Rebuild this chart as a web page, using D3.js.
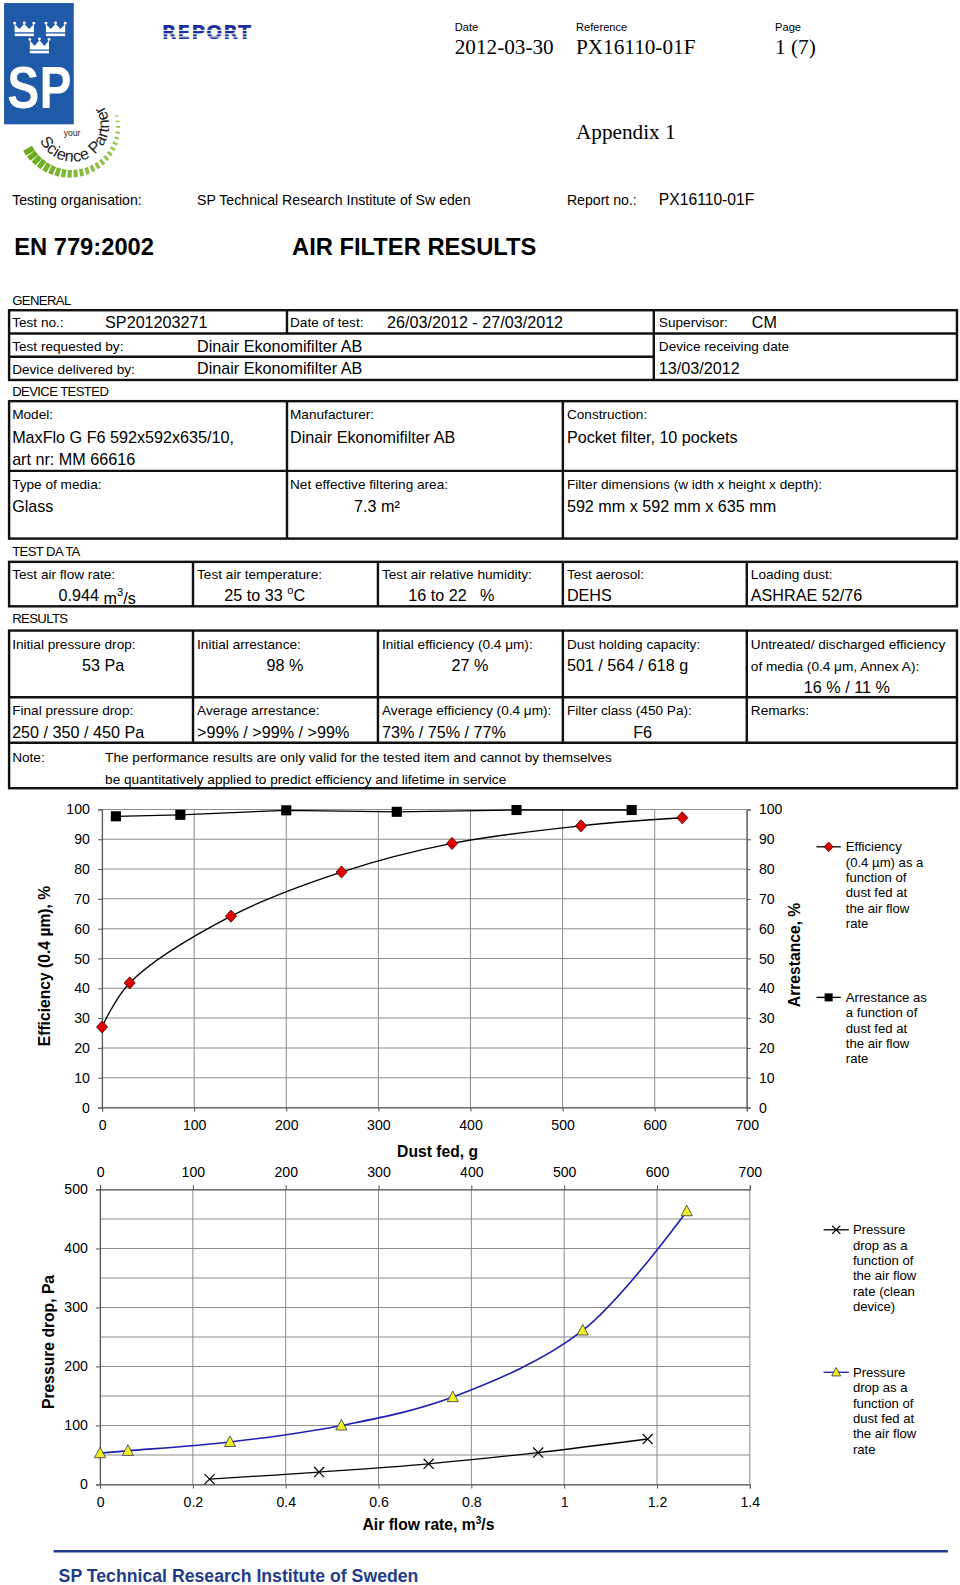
<!DOCTYPE html>
<html>
<head>
<meta charset="utf-8">
<script src="https://cdn.jsdelivr.net/npm/d3@7"></script>
<style>
  body { margin: 0; background: #fff; }
  svg { display: block; font-family: "Liberation Sans", Arial, sans-serif; }
</style>
</head>
<body>
<svg id="page" width="960" height="1585" viewBox="0 0 950 1568.5"></svg>
<script>
// efficiency / arrestance vs dust fed (upper chart)
const dustEff = [0, 30, 140, 260, 380, 520, 630];
const efficiency = [27, 41.8, 64.2, 79, 88.6, 94.5, 97.2];
const dustArr = [15, 85, 200, 320, 450, 575];
const arrestance = [97.7, 98.2, 99.7, 99.2, 99.8, 99.8];

// pressure drop (lower chart)
const dustDp = [0, 30, 140, 260, 380, 520, 632];
const dpDust = [53, 57, 72, 100, 148, 261, 463];
const flowClean = [0.236, 0.472, 0.708, 0.944, 1.18];
const dpClean = [9, 21, 35, 54, 77];

const dustTicks = [0, 100, 200, 300, 400, 500, 600, 700];
const pctTicks = [0, 10, 20, 30, 40, 50, 60, 70, 80, 90, 100];
const flowTicks = [0, 0.2, 0.4, 0.6, 0.8, 1, 1.2, 1.4];
const paTicks = [0, 100, 200, 300, 400, 500];
const paGrid = [0, 50, 100, 150, 200, 250, 300, 350, 400, 450, 500];

const svg = d3.select("#page");
const SERIF = "Liberation Serif, Times New Roman, serif";
const BLUE = "#1f3c8c";

function txt(x, y, s, o = {}) {
  const t = svg.append("text")
    .attr("x", x).attr("y", y)
    .attr("font-size", o.size || 13.5)
    .attr("text-anchor", o.anchor || "start")
    .attr("fill", o.fill || "#000");
  if (o.bold) t.attr("font-weight", "bold");
  if (o.family) t.attr("font-family", o.family);
  if (o.ls) t.attr("letter-spacing", o.ls);
  t.text(s);
  return t;
}
function line(x1, y1, x2, y2, w = 2.4, c = "#111") {
  svg.append("line").attr("x1", x1).attr("y1", y1).attr("x2", x2).attr("y2", y2)
    .attr("stroke", c).attr("stroke-width", w);
}
function box(x1, y1, x2, y2) {
  svg.append("rect").attr("x", x1).attr("y", y1)
    .attr("width", x2 - x1).attr("height", y2 - y1)
    .attr("fill", "none").attr("stroke", "#111").attr("stroke-width", 2.4);
}

// ---------- logo ----------
svg.append("rect").attr("x", 4).attr("y", 3).attr("width", 69).attr("height", 120).attr("fill", "#1e5aa8");
function crown(cx, base, w, h) {
  const p = d3.path();
  p.moveTo(cx - w / 2, base);
  p.lineTo(cx - w / 2, base - h);
  p.lineTo(cx - w / 4, base - h * 0.4);
  p.lineTo(cx, base - h * 1.05);
  p.lineTo(cx + w / 4, base - h * 0.4);
  p.lineTo(cx + w / 2, base - h);
  p.lineTo(cx + w / 2, base);
  p.closePath();
  svg.append("path").attr("d", p.toString()).attr("fill", "#fff");
  svg.append("rect").attr("x", cx - w / 2).attr("y", base + 1.2).attr("width", w).attr("height", 2.6).attr("fill", "#fff");
  [-w / 2, 0, w / 2].forEach(dx => svg.append("circle").attr("cx", cx + dx).attr("cy", base - h * (dx ? 1 : 1.05) - 1).attr("r", 1.4).attr("fill", "#fff"));
}
crown(24, 32, 19, 8);
crown(55, 32, 19, 8);
crown(39, 49, 19, 9);
svg.append("text").attr("transform", "translate(39,107) scale(0.82,1)")
  .attr("text-anchor", "middle").attr("font-size", 58).attr("font-weight", "bold")
  .attr("fill", "#fff").text("SP");

// green gauge dashes
const gc = [72, 124];
for (let i = 0; i < 24; i++) {
  const t = i / 23;
  const a = (150 - 162 * t) * Math.PI / 180;
  const ro = 55 - 9 * t, len = 10 - 6.5 * t;
  svg.append("line")
    .attr("x1", gc[0] + Math.cos(a) * (ro - len)).attr("y1", gc[1] + Math.sin(a) * (ro - len))
    .attr("x2", gc[0] + Math.cos(a) * ro).attr("y2", gc[1] + Math.sin(a) * ro)
    .attr("stroke", d3.interpolateRgb("#6aaa1e", "#a9d063")(t))
    .attr("stroke-width", 5.5 - 4 * t);
}
const arcR = 36;
const a0 = 155 * Math.PI / 180, a1 = -55 * Math.PI / 180;
svg.append("defs").append("path").attr("id", "logoArc")
  .attr("d", `M${gc[0] + arcR * Math.cos(a0)},${gc[1] + arcR * Math.sin(a0)} A${arcR},${arcR} 0 1 0 ${gc[0] + arcR * Math.cos(a1)},${gc[1] + arcR * Math.sin(a1)}`);
svg.append("text").attr("font-size", 16).attr("fill", "#222").attr("letter-spacing", 0.3)
  .append("textPath").attr("href", "#logoArc").text("Science Partner");
txt(63, 135, "your", { size: 8.5, fill: "#222" });

// REPORT wordmark
txt(160, 39, "REPORT", { size: 19, bold: true, fill: "#1a2f9c", ls: 0.8, family: "DejaVu Sans, sans-serif" });
[29.5, 33, 36].forEach(y => svg.append("rect").attr("x", 158).attr("y", y).attr("width", 90).attr("height", 1).attr("fill", "#fff"));

// ---------- header ----------
txt(450, 31, "Date", { size: 11 });
txt(570, 31, "Reference", { size: 11 });
txt(767, 31, "Page", { size: 11 });
txt(450, 53, "2012-03-30", { size: 21, family: SERIF });
txt(570, 53, "PX16110-01F", { size: 21, family: SERIF });
txt(767, 53, "1 (7)", { size: 21, family: SERIF });
txt(570, 138, "Appendix 1", { size: 21, family: SERIF });

txt(12, 203, "Testing organisation:", { size: 14 });
txt(195, 203, "SP Technical Research Institute of Sw eden", { size: 14 });
txt(561, 203, "Report no.:", { size: 14 });
txt(652, 203, "PX16110-01F", { size: 15.5 });

txt(14, 252, "EN 779:2002", { size: 23.5, bold: true });
txt(289, 252, "AIR FILTER RESULTS", { size: 23.5, bold: true });

// ---------- GENERAL ----------
const L = 13.5, V = 16;
txt(12, 302, "GENERAL", { size: 13, ls: -0.6 });
box(9, 307, 947, 376);
line(9, 330, 947, 330);
line(9, 353, 647, 353);
line(284, 307, 284, 330);
line(647, 307, 647, 376);
txt(12, 324, "Test no.:", { size: L });
txt(104, 325, "SP201203271", { size: V });
txt(287, 324, "Date of test:", { size: L });
txt(383, 325, "26/03/2012 - 27/03/2012", { size: V });
txt(652, 324, "Supervisor:", { size: L });
txt(744, 325, "CM", { size: V });
txt(12, 347, "Test requested by:", { size: L });
txt(195, 348, "Dinair Ekonomifilter AB", { size: V });
txt(652, 347, "Device receiving date", { size: L });
txt(12, 370, "Device delivered by:", { size: L });
txt(195, 370, "Dinair Ekonomifilter AB", { size: V });
txt(652, 370, "13/03/2012", { size: V });

// ---------- DEVICE TESTED ----------
txt(12, 392, "DEVICE TESTED", { size: 13, ls: -0.6 });
box(9, 397, 947, 533);
line(9, 466, 947, 466);
line(284, 397, 284, 533);
line(557, 397, 557, 533);
txt(12, 415, "Model:", { size: L });
txt(12, 438, "MaxFlo G F6 592x592x635/10,", { size: V });
txt(12, 460, "art nr: MM 66616", { size: V });
txt(287, 415, "Manufacturer:", { size: L });
txt(287, 438, "Dinair Ekonomifilter AB", { size: V });
txt(561, 415, "Construction:", { size: L });
txt(561, 438, "Pocket filter, 10 pockets", { size: V });
txt(12, 484, "Type of media:", { size: L });
txt(12, 507, "Glass", { size: V });
txt(287, 484, "Net effective filtering area:", { size: L });
txt(373, 507, "7.3 m²", { size: V, anchor: "middle" });
txt(561, 484, "Filter dimensions (w idth x height x depth):", { size: L });
txt(561, 507, "592 mm x 592 mm x 635 mm", { size: V });

// ---------- TEST DATA ----------
txt(12, 550, "TEST DA TA", { size: 13, ls: -0.6 });
box(9, 556, 947, 600);
[191, 374, 557, 739].forEach(x => line(x, 556, x, 600));
txt(12, 573, "Test air flow rate:", { size: L });
const fr = txt(58, 595, "0.944 ", { size: V });
fr.append("tspan").attr("dy", 3).text("m");
fr.append("tspan").attr("dy", -8).attr("font-size", 11).text("3");
fr.append("tspan").attr("dy", 8).text("/s");
txt(195, 573, "Test air temperature:", { size: L });
const tp = txt(222, 595, "25 to 33 ", { size: V });
tp.append("tspan").attr("dy", -7).attr("font-size", 11).text("o");
tp.append("tspan").attr("dy", 7).text("C");
txt(378, 573, "Test air relative humidity:", { size: L });
txt(404, 595, "16 to 22", { size: V });
txt(475, 595, "%", { size: V });
txt(561, 573, "Test aerosol:", { size: L });
txt(561, 595, "DEHS", { size: V });
txt(743, 573, "Loading dust:", { size: L });
txt(743, 595, "ASHRAE 52/76", { size: V });

// ---------- RESULTS ----------
txt(12, 617, "RESULTS", { size: 13, ls: -0.6 });
box(9, 624, 947, 780);
line(9, 690, 947, 690);
line(9, 735, 947, 735);
[191, 374, 557, 739].forEach(x => line(x, 624, x, 735));
txt(12, 642, "Initial pressure drop:", { size: L });
txt(102, 664, "53 Pa", { size: V, anchor: "middle" });
txt(195, 642, "Initial arrestance:", { size: L });
txt(282, 664, "98 %", { size: V, anchor: "middle" });
txt(378, 642, "Initial efficiency (0.4 μm):", { size: L });
txt(465, 664, "27 %", { size: V, anchor: "middle" });
txt(561, 642, "Dust holding capacity:", { size: L });
txt(561, 664, "501 / 564 / 618 g", { size: V });
txt(743, 642, "Untreated/ discharged efficiency", { size: L });
txt(743, 664, "of media (0.4 μm, Annex A):", { size: L });
txt(838, 686, "16 % / 11 %", { size: V, anchor: "middle" });
txt(12, 708, "Final pressure drop:", { size: L });
txt(12, 730, "250 / 350 / 450 Pa", { size: V });
txt(195, 708, "Average arrestance:", { size: L });
txt(195, 730, ">99% / >99% / >99%", { size: V });
txt(378, 708, "Average efficiency (0.4 μm):", { size: L });
txt(378, 730, "73% / 75% / 77%", { size: V });
txt(561, 708, "Filter class (450 Pa):", { size: L });
txt(636, 730, "F6", { size: V, anchor: "middle" });
txt(743, 708, "Remarks:", { size: L });
txt(12, 754, "Note:", { size: L });
txt(104, 754, "The performance results are only valid for the tested item and cannot by themselves", { size: L });
txt(104, 776, "be quantitatively applied to predict efficiency and lifetime in service", { size: L });

// ---------- markers ----------
function marker(g, kind, x, y, s = 1) {
  if (kind === "diamond") {
    g.append("path").attr("d", `M${x},${y - 6 * s}L${x + 5.5 * s},${y}L${x},${y + 6 * s}L${x - 5.5 * s},${y}Z`)
      .attr("fill", "#e00000").attr("stroke", "#400").attr("stroke-width", 0.8);
  } else if (kind === "square") {
    g.append("rect").attr("x", x - 5 * s).attr("y", y - 5 * s).attr("width", 10 * s).attr("height", 10 * s).attr("fill", "#000");
  } else if (kind === "triangle") {
    g.append("path").attr("d", `M${x},${y - 6 * s}L${x + 5.5 * s},${y + 4.5 * s}L${x - 5.5 * s},${y + 4.5 * s}Z`)
      .attr("fill", "#f0f020").attr("stroke", "#335").attr("stroke-width", 0.8);
  } else {
    g.append("path").attr("d", `M${x - 5 * s},${y - 5 * s}L${x + 5 * s},${y + 5 * s}M${x + 5 * s},${y - 5 * s}L${x - 5 * s},${y + 5 * s}`)
      .attr("stroke", "#000").attr("stroke-width", 1.2).attr("fill", "none");
  }
}
function styleAxis(g) {
  g.attr("font-family", "Liberation Sans, Arial, sans-serif").attr("font-size", 14);
  g.selectAll("path,line").attr("stroke", "#555");
}
function fmt(d) { return String(d); }

// ---------- chart 1: efficiency & arrestance ----------
const x1 = d3.scaleLinear().domain([0, 700]).range([101, 739]);
const y1 = d3.scaleLinear().domain([0, 100]).range([1096, 801]);
const c1 = svg.append("g");
c1.selectAll(".h").data(pctTicks).join("line")
  .attr("x1", x1(0)).attr("x2", x1(700)).attr("y1", d => y1(d)).attr("y2", d => y1(d))
  .attr("stroke", "#8c8c8c");
c1.selectAll(".v").data(dustTicks).join("line")
  .attr("y1", y1(0)).attr("y2", y1(100)).attr("x1", d => x1(d)).attr("x2", d => x1(d))
  .attr("stroke", "#8c8c8c");
c1.append("g").attr("transform", `translate(0,${y1(0)})`)
  .call(d3.axisBottom(x1).tickValues(dustTicks).tickSize(4).tickPadding(8).tickFormat(fmt)).call(styleAxis);
c1.append("g").attr("transform", `translate(${x1(0)},0)`)
  .call(d3.axisLeft(y1).tickValues(pctTicks).tickSize(4).tickPadding(8).tickFormat(fmt)).call(styleAxis);
c1.append("g").attr("transform", `translate(${x1(700)},0)`)
  .call(d3.axisRight(y1).tickValues(pctTicks).tickSize(4).tickPadding(8).tickFormat(fmt)).call(styleAxis);

c1.append("path")
  .attr("d", d3.line().x((d, i) => x1(dustArr[i])).y(d => y1(d))(arrestance))
  .attr("fill", "none").attr("stroke", "#000").attr("stroke-width", 1.3);
c1.append("path")
  .attr("d", d3.line().x((d, i) => x1(dustEff[i])).y(d => y1(d)).curve(d3.curveCatmullRom.alpha(0.5))(efficiency))
  .attr("fill", "none").attr("stroke", "#000").attr("stroke-width", 1.3);
arrestance.forEach((v, i) => marker(c1, "square", x1(dustArr[i]), y1(v)));
efficiency.forEach((v, i) => marker(c1, "diamond", x1(dustEff[i]), y1(v)));

svg.append("text").attr("transform", "translate(49.5,956) rotate(-90)")
  .attr("text-anchor", "middle").attr("font-size", 15.5).attr("font-weight", "bold")
  .text("Efficiency (0.4 µm), %");
svg.append("text").attr("transform", "translate(791.5,945) rotate(-90)")
  .attr("text-anchor", "middle").attr("font-size", 15.5).attr("font-weight", "bold")
  .text("Arrestance, %");
txt(433, 1144.5, "Dust fed, g", { size: 15.5, bold: true, anchor: "middle" });

function legend(x0, x1l, tx, y, kind, color, lines) {
  line(x0, y, x1l, y, 1.3, color);
  marker(svg, kind, (x0 + x1l) / 2, y, 0.8);
  lines.forEach((s, i) => txt(tx, y + 4.5 + i * 15.2, s, { size: 13 }));
}
legend(808, 832, 837, 838, "diamond", "#000",
  ["Efficiency", "(0.4 µm) as a", "function of", "dust fed at", "the air flow", "rate"]);
legend(808, 832, 837, 987, "square", "#000",
  ["Arrestance as", "a function of", "dust fed at", "the air flow", "rate"]);

// ---------- chart 2: pressure drop ----------
const x2 = d3.scaleLinear().domain([0, 1.4]).range([99, 742]);
const x2d = d3.scaleLinear().domain([0, 700]).range([99, 742]);
const y2 = d3.scaleLinear().domain([0, 500]).range([1469, 1177]);
const c2 = svg.append("g");
c2.selectAll(".h").data(paGrid).join("line")
  .attr("x1", x2(0)).attr("x2", x2(1.4)).attr("y1", d => y2(d)).attr("y2", d => y2(d))
  .attr("stroke", "#8c8c8c");
c2.selectAll(".v").data(flowTicks).join("line")
  .attr("y1", y2(0)).attr("y2", y2(500)).attr("x1", d => x2(d)).attr("x2", d => x2(d))
  .attr("stroke", "#8c8c8c");
c2.append("g").attr("transform", `translate(0,${y2(0)})`)
  .call(d3.axisBottom(x2).tickValues(flowTicks).tickSize(4).tickPadding(8).tickFormat(fmt)).call(styleAxis);
c2.append("g").attr("transform", `translate(0,${y2(500)})`)
  .call(d3.axisTop(x2d).tickValues(dustTicks).tickSize(4).tickPadding(8).tickFormat(fmt)).call(styleAxis);
c2.append("g").attr("transform", `translate(${x2(0)},0)`)
  .call(d3.axisLeft(y2).tickValues(paTicks).tickSize(4).tickPadding(8).tickFormat(fmt)).call(styleAxis);

c2.append("path")
  .attr("d", d3.line().x((d, i) => x2(flowClean[i])).y(d => y2(d)).curve(d3.curveCatmullRom.alpha(0.5))(dpClean))
  .attr("fill", "none").attr("stroke", "#000").attr("stroke-width", 1.3);
c2.append("path")
  .attr("d", d3.line().x((d, i) => x2d(dustDp[i])).y(d => y2(d)).curve(d3.curveCatmullRom.alpha(0.5))(dpDust))
  .attr("fill", "none").attr("stroke", "#1e1eb4").attr("stroke-width", 1.6);
dpClean.forEach((v, i) => marker(c2, "cross", x2(flowClean[i]), y2(v)));
dpDust.forEach((v, i) => marker(c2, "triangle", x2d(dustDp[i]), y2(v)));

svg.append("text").attr("transform", "translate(53.5,1328) rotate(-90)")
  .attr("text-anchor", "middle").attr("font-size", 15.5).attr("font-weight", "bold")
  .text("Pressure drop, Pa");
const af = txt(424, 1514, "Air flow rate, m", { size: 15.5, bold: true, anchor: "middle" });
af.append("tspan").attr("dy", -6).attr("font-size", 10).text("3");
af.append("tspan").attr("dy", 6).text("/s");

legend(815, 840, 844, 1217, "cross", "#000",
  ["Pressure", "drop as a", "function of", "the air flow", "rate (clean", "device)"]);
legend(815, 840, 844, 1358, "triangle", "#1e1eb4",
  ["Pressure", "drop as a", "function of", "dust fed at", "the air flow", "rate"]);

// ---------- footer ----------
line(53, 1535, 938, 1535, 2.5, BLUE);
txt(58, 1566, "SP Technical Research Institute of Sweden", { size: 17.5, bold: true, fill: BLUE });
</script>
</body>
</html>
